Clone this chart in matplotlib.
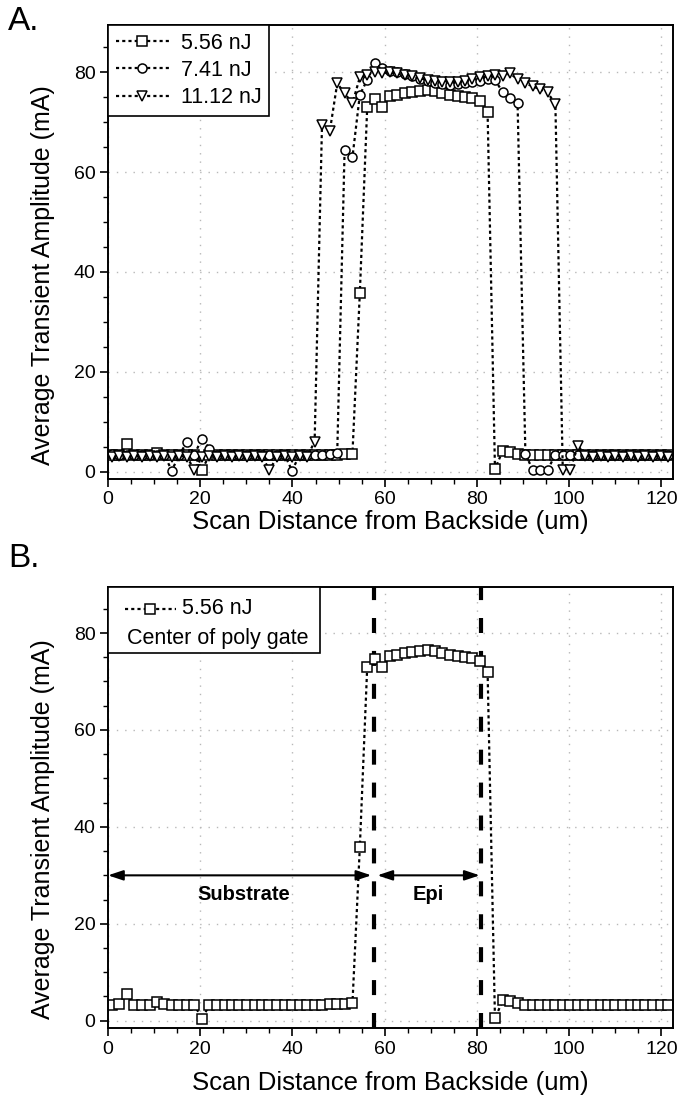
import matplotlib
matplotlib.use('Agg')
import matplotlib.pyplot as plt
from matplotlib.ticker import MultipleLocator
from matplotlib.patches import Rectangle
from matplotlib.lines import Line2D

plt.rcParams['font.family'] = ['Liberation Sans', 'DejaVu Sans']

# ---------------- data ----------------
scan_um = [0.8, 2.4, 4.1, 5.7, 7.3, 9.0, 10.6, 12.2, 13.8, 15.5,
           17.1, 18.7, 20.4, 22.0, 23.6, 25.3, 26.9, 28.5, 30.1, 31.8,
           33.4, 35.0, 36.7, 38.3, 39.9, 41.6, 43.2, 44.8, 46.4, 48.1,
           49.7, 51.3, 53.0, 54.6, 56.2, 57.9, 59.5, 61.1, 62.7, 64.4,
           66.0, 67.6, 69.3, 70.9, 72.5, 74.2, 75.8, 77.4, 79.0, 80.7,
           82.3, 83.9, 85.6, 87.2, 88.8, 90.5, 92.1, 93.7, 95.3, 97.0,
           98.6, 100.2, 101.9, 103.5, 105.1, 106.8, 108.4, 110.0, 111.6, 113.3,
           114.9, 116.5, 118.2, 119.8, 121.4]

amp_556 = [3.3, 3.4, 5.6, 3.3, 3.3, 3.3, 3.8, 3.4, 3.3, 3.3,
           3.3, 3.3, 0.4, 3.3, 3.3, 3.3, 3.3, 3.3, 3.3, 3.3,
           3.3, 3.3, 3.3, 3.3, 3.3, 3.3, 3.3, 3.3, 3.3, 3.4,
           3.4, 3.5, 3.6, 35.8, 73.0, 74.6, 73.0, 75.3, 75.5, 75.8,
           76.0, 76.3, 76.5, 76.2, 75.8, 75.5, 75.3, 75.0, 74.8, 74.3,
           72.0, 0.5, 4.2, 4.0, 3.6, 3.3, 3.3, 3.3, 3.3, 3.3,
           3.3, 3.3, 3.3, 3.3, 3.3, 3.3, 3.3, 3.3, 3.3, 3.3,
           3.3, 3.3, 3.3, 3.3, 3.3]

amp_741 = [3.5, 3.4, 3.3, 3.4, 3.3, 3.4, 3.3, 3.4, 0.2, 3.3,
           6.0, 3.4, 6.6, 4.6, 3.4, 3.3, 3.4, 3.3, 3.4, 3.3,
           3.4, 3.3, 3.4, 3.3, 0.2, 3.4, 3.3, 3.4, 3.4, 3.6,
           3.7, 64.5, 63.0, 75.5, 78.5, 81.8, 80.8, 80.3, 80.0, 79.6,
           79.2, 78.6, 78.2, 77.8, 77.6, 77.5, 77.6, 77.8, 78.0, 78.3,
           78.6, 78.5, 76.0, 74.8, 73.8, 3.5, 0.3, 0.3, 0.3, 3.4,
           3.3, 3.4, 3.3, 3.4, 3.3, 3.4, 3.3, 3.4, 3.3, 3.4,
           3.3, 3.4, 3.3, 3.4, 3.3]

amp_1112 = [3.0, 3.1, 3.0, 3.1, 3.0, 3.1, 3.0, 3.1, 3.0, 3.1,
            3.0, 0.3, 3.0, 3.1, 3.0, 3.1, 3.0, 3.1, 3.0, 3.1,
            3.0, 0.3, 3.0, 3.1, 3.0, 3.1, 3.0, 6.0, 69.5, 68.3,
            77.8, 75.8, 73.8, 79.0, 79.5, 80.0, 79.8, 80.0, 79.8, 79.5,
            79.2, 78.8, 78.5, 78.2, 78.0, 78.0, 78.0, 78.3, 78.6, 79.0,
            79.2, 79.4, 79.2, 79.8, 78.6, 77.8, 77.2, 76.6, 76.0, 73.6,
            0.3, 0.3, 5.2, 3.1, 3.0, 3.1, 3.0, 3.1, 3.0, 3.1,
            3.0, 3.1, 3.0, 3.1, 3.0]

series_labels = ['5.56 nJ', '7.41 nJ', '11.12 nJ']
series_markers = ['s', 'o', 'v']
boundaries_um = [57.6, 80.8]
region_labels = ['Substrate', 'Epi']
arrow_level = 30
xticks = [0, 20, 40, 60, 80, 100, 120]
yticks = [0, 20, 40, 60, 80]
xlabel = 'Scan Distance from Backside (um)'
ylabel = 'Average Transient Amplitude (mA)'

# ---------------- figure ----------------
W, H = 690, 1103
fig = plt.figure(figsize=(W / 100, H / 100), dpi=100)
axA = fig.add_axes([108 / W, 1 - 479 / H, 565 / W, 454 / H])
axB = fig.add_axes([108 / W, 1 - 1028 / H, 565 / W, 441 / H])

line_kw = dict(color='black', ls=(0, (1.4, 1.4)), lw=1.6,
               markersize=6.5, markerfacecolor='white',
               markeredgecolor='black', markeredgewidth=1.1)


def style(ax, xpad):
    ax.set_xlim(0, 122.5)
    ax.set_ylim(-1.5, 89.5)
    ax.set_xticks(xticks)
    ax.set_yticks(yticks)
    ax.xaxis.set_minor_locator(MultipleLocator(5))
    ax.yaxis.set_minor_locator(MultipleLocator(5))
    ax.tick_params(which='major', direction='out', length=6, width=1.2,
                   labelsize=14, top=False, right=False, pad=3)
    ax.tick_params(which='minor', direction='out', length=3.5, width=1.0,
                   top=False, right=False)
    for s in ax.spines.values():
        s.set_linewidth(1.4)
    ax.grid(True, which='major', color='0.72', ls=(0, (1, 5)), lw=1.0)
    ax.set_axisbelow(True)
    ax.set_xlabel(xlabel, fontsize=18.5, labelpad=xpad)
    ax.set_ylabel(ylabel, fontsize=18)
    ax.yaxis.set_label_coords(-0.094, 0.45)


# ---------------- panel A ----------------
style(axA, 1)
for vals, mk, lab in zip([amp_556, amp_741, amp_1112], series_markers, series_labels):
    axA.plot(scan_um, vals, marker=mk, label=lab, **line_kw)
legA = axA.legend(loc='upper left', borderaxespad=0, fontsize=15.5,
                  frameon=True, fancybox=False, edgecolor='black',
                  framealpha=1, handlelength=2.5, handletextpad=0.55,
                  labelspacing=0.3, borderpad=0.35, numpoints=1)
legA.get_frame().set_linewidth(1.2)

# ---------------- panel B ----------------
style(axB, 10)
axB.plot(scan_um, amp_556, marker='s', **line_kw)
for b in boundaries_um:
    axB.axvline(b, color='black', lw=3, ls=(0, (3.6, 4.3)), zorder=1)
axB.annotate('', xy=(0, arrow_level), xytext=(boundaries_um[0] - 0.5, arrow_level),
             arrowprops=dict(arrowstyle='<|-|>,head_length=0.9,head_width=0.3',
                             color='black', lw=1.5, shrinkA=0, shrinkB=0))
axB.annotate('', xy=(boundaries_um[0] + 0.8, arrow_level), xytext=(boundaries_um[1] - 0.2, arrow_level),
             arrowprops=dict(arrowstyle='<|-|>,head_length=0.9,head_width=0.3',
                             color='black', lw=1.5, shrinkA=0, shrinkB=0))
axB.text(29.5, 26.0, region_labels[0], ha='center', va='center',
         fontsize=14.5, fontweight='bold')
axB.text(69.5, 26.0, region_labels[1], ha='center', va='center',
         fontsize=14.5, fontweight='bold')

# legend box of panel B (entry + note)
axB.add_patch(Rectangle((0, 0.850), 0.375, 0.150, transform=axB.transAxes,
                        facecolor='white', edgecolor='black', lw=1.2,
                        zorder=5, clip_on=False))
axB.add_line(Line2D([0.030, 0.120], [0.951, 0.951], transform=axB.transAxes,
                    color='black', ls=(0, (1.4, 1.4)), lw=1.6, zorder=6))
axB.add_line(Line2D([0.075], [0.951], transform=axB.transAxes, marker='s',
                    markersize=6.5, markerfacecolor='white',
                    markeredgecolor='black', markeredgewidth=1.1, ls='none',
                    zorder=7))
axB.text(0.131, 0.951, series_labels[0], transform=axB.transAxes,
         fontsize=15.5, va='center', ha='left', zorder=7)
axB.text(0.034, 0.884, 'Center of poly gate', transform=axB.transAxes,
         fontsize=15.5, va='center', ha='left', zorder=7)

# panel letters
fig.text(8 / W, 1 - 6 / H, 'A.', fontsize=24, va='top', ha='left')
fig.text(8 / W, 1 - 543 / H, 'B.', fontsize=24, va='top', ha='left')

fig.savefig('out.png', dpi=100)
